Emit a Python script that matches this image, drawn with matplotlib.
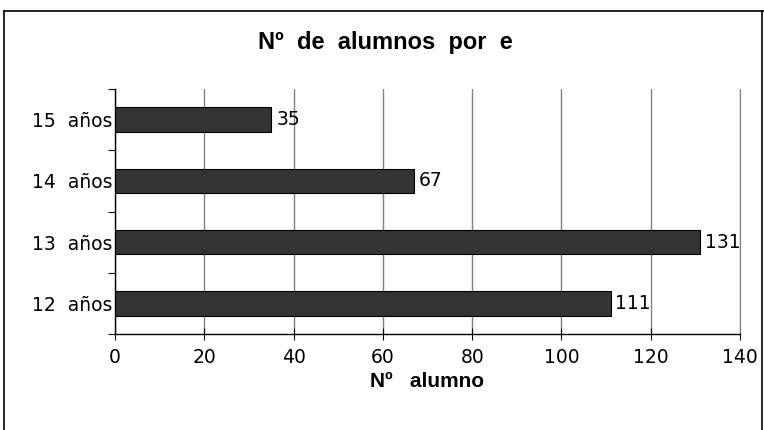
import matplotlib.pyplot as plt
from matplotlib.lines import Line2D

categorias = ['12  años', '13  años', '14  años', '15  años']
alumnos = [111, 131, 67, 35]
xticks = [0, 20, 40, 60, 80, 100, 120, 140]

fig = plt.figure(figsize=(7.64, 4.30), dpi=100)
ax = fig.add_axes([115/764, 1-334/430, 625/764, 245/430])

pos = range(len(categorias))
ax.barh(pos, alumnos, height=0.4, color='#333333', edgecolor='black', linewidth=0.8, zorder=3)
for y, v in zip(pos, alumnos):
    ax.text(v + 1.1, y, str(v), va='center', ha='left', fontsize=13.5, zorder=4)

ax.set_xlim(0, 140)
ax.set_ylim(-0.5, 3.5)
ax.set_xticks(xticks)
ax.set_xticklabels([str(t) for t in xticks], fontsize=13.5)
ax.set_yticks(list(pos))
ax.set_yticklabels(categorias, fontsize=13.5)
ax.set_yticks([-0.5, 0.5, 1.5, 2.5, 3.5], minor=True)
ax.tick_params(axis='y', which='major', length=0, pad=2)
ax.tick_params(axis='y', which='minor', length=5, direction='out', width=0.8)
ax.tick_params(axis='x', which='major', length=8, direction='inout', width=0.8, pad=6)
ax.grid(axis='x', color='#808080', linewidth=1, zorder=0)
ax.spines['top'].set_visible(False)
ax.spines['right'].set_color('#808080')
for s in ('left', 'bottom'):
    ax.spines[s].set_linewidth(1)

ax.set_xlabel('Nº   alumno', fontsize=15, fontweight='bold', family='Liberation Sans', labelpad=4)
fig.text(385/764, 1-42/430, 'Nº  de  alumnos  por  e', ha='center', va='center',
         fontsize=17, fontweight='bold', family='Liberation Sans')

# marco exterior
fig.add_artist(Line2D([4/764, 4/764], [0, 1-11/430], color='black', lw=1.2, transform=fig.transFigure))
fig.add_artist(Line2D([4/764, 1], [1-11/430, 1-11/430], color='black', lw=1.2, transform=fig.transFigure))
fig.add_artist(Line2D([762/764, 762/764], [0, 1-11/430], color='black', lw=1.2, transform=fig.transFigure))

fig.savefig('out.png', dpi=100)
